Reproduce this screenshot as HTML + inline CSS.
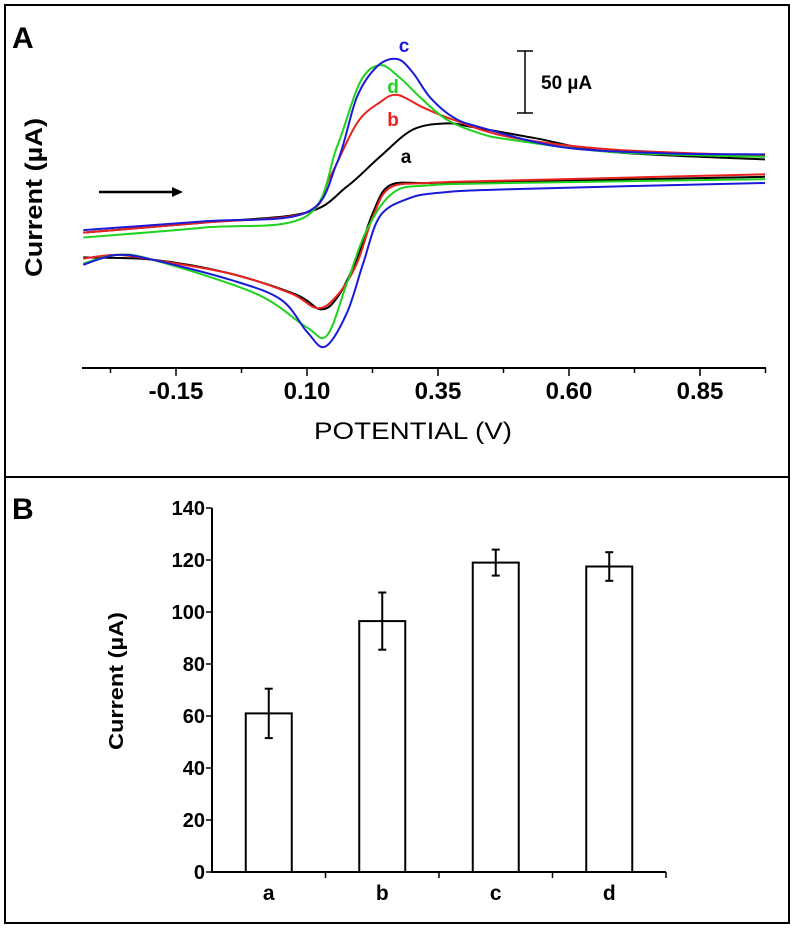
<!DOCTYPE html>
<html><head><meta charset="utf-8"><style>
html,body{margin:0;padding:0;background:#fff;}
svg{display:block;}
.n{font-family:"Liberation Sans Narrow","Liberation Sans",sans-serif;font-weight:bold;}
</style></head><body>
<svg id="fig" width="795" height="933" viewBox="0 0 795 933" xmlns="http://www.w3.org/2000/svg">
<rect x="5" y="5" width="784" height="918" fill="#fff" stroke="#000" stroke-width="2"/>
<line x1="5" y1="477" x2="789" y2="477" stroke="#000" stroke-width="2"/>
<text x="12" y="48" font-family="Liberation Sans,sans-serif" font-weight="bold" font-size="30">A</text>
<text x="12" y="519" font-family="Liberation Sans,sans-serif" font-weight="bold" font-size="30">B</text>
<g id="cv"></g>
<g id="bars"></g>
</svg>
<script>
const NS="http://www.w3.org/2000/svg";
// ---------- Panel A data (V, µA) ----------
const cvSeries=["a","b","c","d"];
const cvColors=["#000000","#e8231e","#1a1ad8","#1ed21e"];
const fwdV_a=[-0.327,-0.097,0.098,0.176,0.239,0.302,0.367,0.417,0.537,0.682,0.974];
const fwdI_a=[6,14,22,43,67,89,94,91,82,71,65];
const revV_a=[0.974,0.487,0.33,0.258,0.226,0.195,0.16,0.127,0.079,-0.047,-0.194,-0.327];
const revI_a=[51,47,46,44,22,-15,-45,-56,-44,-27,-16,-14];
const fwdV_b=[-0.327,-0.097,0.098,0.144,0.195,0.239,0.272,0.321,0.379,0.487,0.682,0.974];
const fwdI_b=[6,14,22,51,94,111,117,107,97,83,73,68];
const revV_b=[0.974,0.487,0.33,0.258,0.226,0.195,0.157,0.12,0.069,-0.047,-0.194,-0.263,-0.327];
const revI_b=[53,48,46,42,19,-19,-45,-55,-43,-27,-16,-12,-15];
const fwdV_c=[-0.327,-0.097,0.098,0.157,0.195,0.234,0.272,0.302,0.335,0.379,0.43,0.585,0.779,0.974];
const fwdI_c=[8,15,22,62,115,140,146,135,115,99,91,75,70,69];
const revV_c=[0.974,0.487,0.35,0.291,0.239,0.207,0.176,0.135,0.1,0.05,-0.047,-0.194,-0.263,-0.327];
const revI_c=[46,41,38,33,19,-19,-59,-86,-74,-48,-32,-16,-12,-20];
const fwdV_d=[-0.327,-0.097,0.098,0.157,0.201,0.239,0.277,0.316,0.367,0.43,0.487,0.682,0.974];
const fwdI_d=[2,10,19,75,127,141,131,115,97,86,81,71,67];
const revV_d=[0.974,0.487,0.33,0.264,0.214,0.176,0.138,0.098,0.001,-0.194,-0.263,-0.327];
const revI_d=[49,46,44,38,8,-35,-77,-70,-43,-16,-12,-19];
const xTickVals=[-0.15,0.10,0.35,0.60,0.85];
const xTickLabels=["-0.15","0.10","0.35","0.60","0.85"];
// ---------- Panel B data ----------
const barCats=["a","b","c","d"];
const barVals=[61,96.5,119,117.5];
const barErr=[9.5,11,5,5.5];
const yTicks=[0,20,40,60,80,100,120,140];

function el(tag,attrs,parent,text){const e=document.createElementNS(NS,tag);for(const k in attrs)e.setAttribute(k,attrs[k]);if(text!==undefined)e.textContent=text;parent.appendChild(e);return e;}
const xA=v=>176+(v+0.15)*524;
const yA=i=>240-i*1.24;
const cv=document.getElementById('cv');
function smoothPath(pts){let d="M"+pts[0][0].toFixed(1)+","+pts[0][1].toFixed(1);
 for(let i=0;i<pts.length-1;i++){const p0=pts[i-1]||pts[i],p1=pts[i],p2=pts[i+1],p3=pts[i+2]||p2;
  const c1=[p1[0]+(p2[0]-p0[0])/6,p1[1]+(p2[1]-p0[1])/6],c2=[p2[0]-(p3[0]-p1[0])/6,p2[1]-(p3[1]-p1[1])/6];
  d+=" C"+c1[0].toFixed(1)+","+c1[1].toFixed(1)+" "+c2[0].toFixed(1)+","+c2[1].toFixed(1)+" "+p2[0].toFixed(1)+","+p2[1].toFixed(1);}
 return d;}
const allData={a:[fwdV_a,fwdI_a,revV_a,revI_a],b:[fwdV_b,fwdI_b,revV_b,revI_b],c:[fwdV_c,fwdI_c,revV_c,revI_c],d:[fwdV_d,fwdI_d,revV_d,revI_d]};
const drawOrder=["a","b","d","c"];
drawOrder.forEach(s=>{const idx=cvSeries.indexOf(s);const [fv,fi,rv,ri]=allData[s];
 const p1=fv.map((v,i)=>[xA(v),yA(fi[i])]);const p2=rv.map((v,i)=>[xA(v),yA(ri[i])]);
 const a=el('path',{d:smoothPath(p1),fill:"none",stroke:cvColors[idx],"stroke-width":2},cv);
 
 
 const b=el('path',{d:smoothPath(p2),fill:"none",stroke:cvColors[idx],"stroke-width":2},cv);
 
 
});
let ax=el('line',{x1:82,y1:368,x2:766,y2:368,stroke:"#000","stroke-width":2},cv);


for(let v=-0.275;v<0.98;v+=0.125){const major=xTickVals.some(t=>Math.abs(t-v)<1e-6);
 const t=el('line',{x1:xA(v),y1:368,x2:xA(v),y2:major?376:373,stroke:"#000","stroke-width":1.5},cv);
 
 }
xTickVals.forEach((v,i)=>{const t=el('text',{x:xA(v),y:399,"text-anchor":"middle","font-size":24,class:"n"},cv,xTickLabels[i]);
 
 });
let xt=el('text',{x:314,y:439,"font-size":24,textLength:198,lengthAdjust:"spacingAndGlyphs","font-family":"Liberation Sans Narrow,Liberation Sans,sans-serif"},cv,"POTENTIAL (V)");


let yt=el('text',{x:0,y:0,transform:"translate(42,277) rotate(-90)","font-size":24,textLength:159,lengthAdjust:"spacingAndGlyphs","font-weight":"bold","font-family":"Liberation Sans,sans-serif"},cv,"Current (µA)");


const sb=el('g',{},cv);


el('line',{x1:525,y1:51,x2:525,y2:113,stroke:"#000","stroke-width":1.5},sb);
el('line',{x1:517,y1:51,x2:533,y2:51,stroke:"#000","stroke-width":1.5},sb);
el('line',{x1:517,y1:113,x2:533,y2:113,stroke:"#000","stroke-width":1.5},sb);
let sbt=el('text',{x:541,y:89,"font-size":19,class:"n"},cv,"50 µA");


const ar=el('g',{},cv);


el('line',{x1:99,y1:192,x2:175,y2:192,stroke:"#000","stroke-width":2.5},ar);
el('path',{d:"M183,192 L172,187 L172,197 Z",fill:"#000"},ar);
const labPos=[[406,163],[393,126],[404,52],[393,93]];
cvSeries.forEach((s,i)=>{const t=el('text',{x:labPos[i][0],y:labPos[i][1],"text-anchor":"middle","font-size":19,"font-weight":"bold","font-family":"Liberation Sans,sans-serif",fill:cvColors[i]},cv,s);
 
 });

// ---------- Panel B ----------
const bg=document.getElementById('bars');
const yB=v=>872-v*2.6;
const x0=212,catW=113.5,barW=46;
const xB=i=>x0+catW*(i+0.5);
barCats.forEach((c,i)=>{const cx=xB(i);
 const r=el('rect',{x:cx-barW/2,y:yB(barVals[i]),width:barW,height:yB(0)-yB(barVals[i]),fill:"#fff",stroke:"#000","stroke-width":2},bg);
 
 
 const eg=el('g',{stroke:"#000","stroke-width":2},bg);
 
 
 el('line',{x1:cx,y1:yB(barVals[i]-barErr[i]),x2:cx,y2:yB(barVals[i]+barErr[i])},eg);
 el('line',{x1:cx-4,y1:yB(barVals[i]-barErr[i]),x2:cx+4,y2:yB(barVals[i]-barErr[i])},eg);
 el('line',{x1:cx-4,y1:yB(barVals[i]+barErr[i]),x2:cx+4,y2:yB(barVals[i]+barErr[i])},eg);
 const t=el('text',{x:cx,y:900,"text-anchor":"middle","font-size":21,class:"n"},bg,c);
 
 
});
let bya=el('line',{x1:212,y1:yB(140),x2:212,y2:yB(0)+1,stroke:"#000","stroke-width":2},bg);


let bxa=el('line',{x1:211,y1:yB(0),x2:666,y2:yB(0),stroke:"#000","stroke-width":2},bg);


for(let i=1;i<=4;i++){const t=el('line',{x1:x0+catW*i,y1:872,x2:x0+catW*i,y2:878,stroke:"#000","stroke-width":1.5},bg);
 
 }
yTicks.forEach(v=>{const t=el('line',{x1:206,y1:yB(v),x2:212,y2:yB(v),stroke:"#000","stroke-width":1.5},bg);
 
 
 const l=el('text',{x:205,y:yB(v)+7,"text-anchor":"end","font-size":20,class:"n"},bg,String(v));
 
 });
let byt=el('text',{x:0,y:0,transform:"translate(123,750) rotate(-90)","font-size":20,textLength:138,lengthAdjust:"spacingAndGlyphs","font-weight":"bold","font-family":"Liberation Sans,sans-serif"},bg,"Current (µA)");


</script>
</body></html>
